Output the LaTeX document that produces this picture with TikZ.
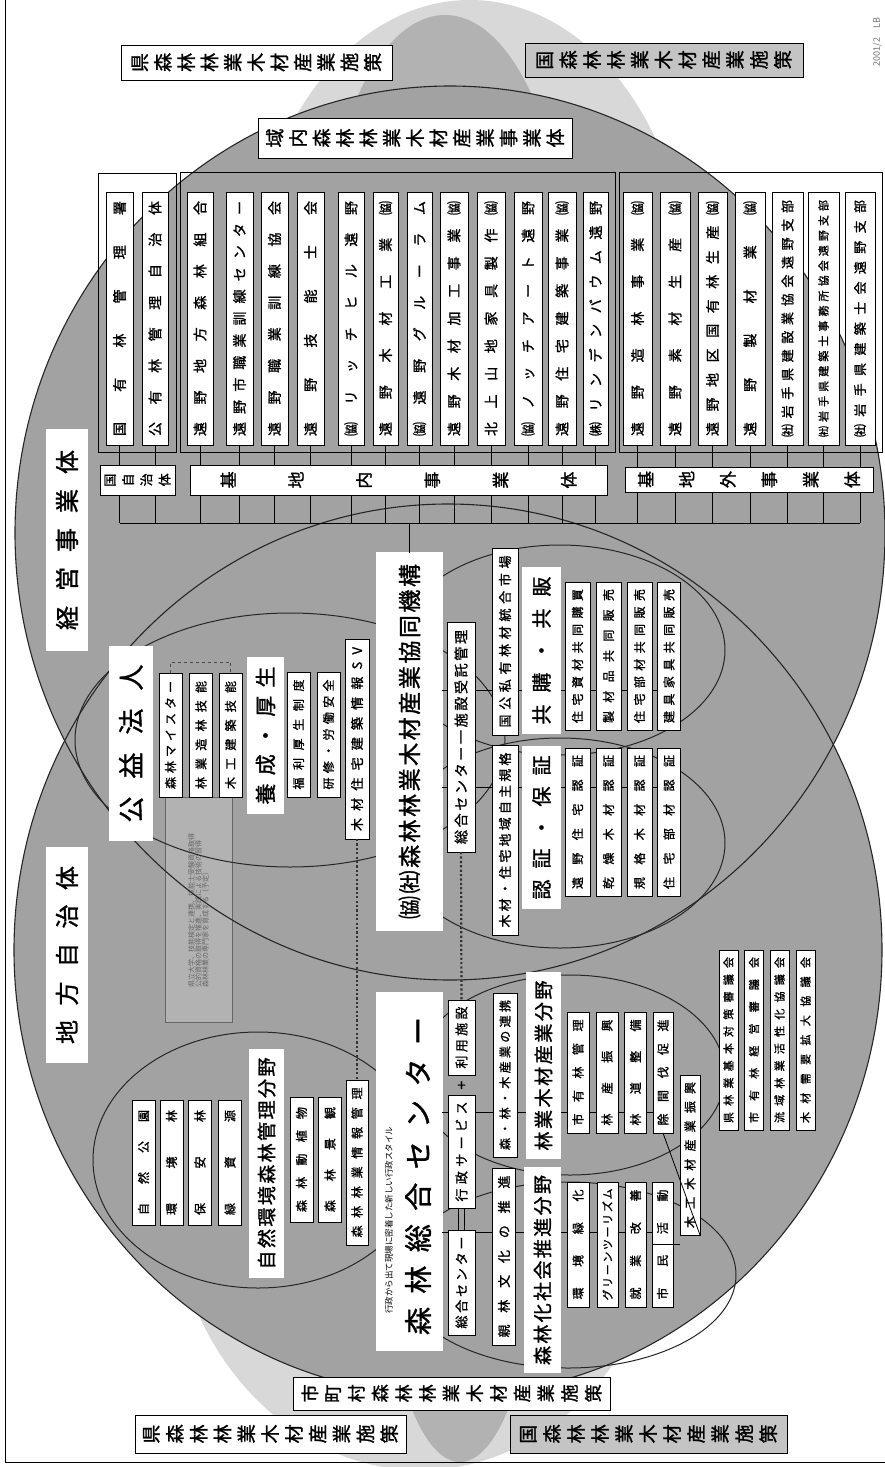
\documentclass[tikz,border=0pt]{standalone}
\usepackage{fontspec}
\usepackage{graphicx}
\newfontfamily\jp{Noto Sans CJK JP}[FakeBold=1.3]
\newfontfamily\jpl{Noto Sans CJK JP}
\def\spr#1{\sprA#1\sprEnd}
\def\sprA#1#2\sprEnd{#1\if\relax\detokenize{#2}\relax\else\hfill\sprA#2\sprEnd\fi}
\def\rspr#1{\rsprA#1\sprEnd}
\def\rsprA#1#2\sprEnd{\rotatebox[origin=c]{90}{#1}\if\relax\detokenize{#2}\relax\else\hfill\rsprA#2\sprEnd\fi}
\newcommand\fs[1]{\fontsize{#1}{#1}\selectfont}
\definecolor{cg}{HTML}{A2A2A2}
\definecolor{lg}{HTML}{D8D8D8}
\definecolor{mg}{HTML}{B2B2B2}
\definecolor{pg}{HTML}{C4C4C4}
\tikzset{
  bx/.style={draw=black,line width=0.8pt,fill=white,inner sep=0pt,outer sep=0pt},
  vb/.style={bx,rotate=90,font=\jp\fs{14}},
  hb/.style={bx,font=\jp\fs{19}},
  dbl/.style={double=white,double distance=1.3pt,line width=0.8pt},
  ring/.style={draw=black!85,line width=1.1pt},
  sub/.style={draw=black!85,line width=1pt},
  link/.style={draw=black,line width=0.8pt},
  dots/.style={draw=black!80,line width=2.2pt,dash pattern=on 2.2pt off 2.2pt},
}
% [opts]{name}{x}{y}{length}{thickness}{text width}{text}
\newcommand\LB[8][]{\node[vb,minimum width=#5pt,minimum height=#6pt,#1] (#2) at (#3,#4) {\makebox[#7pt]{\spr{#8}}};}
\newcommand\HB[8][]{\node[hb,minimum width=#5pt,minimum height=#6pt,#1] (#2) at (#3,#4) {\makebox[#7pt]{\rspr{#8}}};}
\begin{document}
\begin{tikzpicture}[x=1pt,y=-1pt]
\useasboundingbox (0,0) rectangle (885,1467);
\fill[white] (0,0) rectangle (885,1467);
% background policy shapes
\fill[lg] (470,300) ellipse [x radius=220, y radius=300];
\fill[mg] (445,300) ellipse [x radius=125, y radius=285];
\fill[lg] (420,1180) ellipse [x radius=250, y radius=290];
\fill[mg] (460,1200) ellipse [x radius=80, y radius=262];
% frame
\draw[line width=1pt] (5,0) -- (5,1462) -- (885,1462);
\node[rotate=90,font=\jpl\fs{9},text=black!55] (date) at (877,42) {2001/2\quad LB};
% big circles
\fill[cg] (450,533) ellipse [x radius=435, y radius=447];
\fill[cg] (448,950) ellipse [x radius=434, y radius=446];
% note box under the outlines
\draw[line width=0.6pt,black!60,fill=mg] (165,797) rectangle (232,1022);
\node[rotate=90,font=\jpl\fs{7},text=black!60,align=left] (note) at (198.5,910)
  {県立大学、技能検定と連携、技能士受験資格取得\\公的資格の取得を推進、実践による技術の習得\\森林林業の専門家を育成する（予定）};
\draw[ring] (450,533) ellipse [x radius=435, y radius=447];
\draw[ring] (448,950) ellipse [x radius=434, y radius=446];
% sub ellipses
\draw[sub] (290,740) ellipse [x radius=215, y radius=127];
\draw[sub] (560,650) ellipse [x radius=165, y radius=105];
\draw[sub] (560,843) ellipse [x radius=165, y radius=105];
\draw[sub] (258,1160) ellipse [x radius=165, y radius=128];
\draw[sub] (570,1075) ellipse [x radius=155, y radius=100];
\draw[sub] (568,1275) ellipse [x radius=168, y radius=93];
% group panels
\draw[line width=0.8pt] (98,173) rectangle (176,452);
\draw[line width=0.8pt] (180,172) rectangle (615,452);
\draw[line width=0.8pt] (619,172) rectangle (882,452);
% top/bottom policy labels
\HB{kenT}{256.5}{62.5}{271}{35}{250}{県森林林業木材産業施策}
\HB[fill=pg]{kuniT}{664}{60}{278}{34}{255}{国森林林業木材産業施策}
\HB{ikinai}{415}{138}{314}{40}{298}{域内森林林業木材産業事業体}
\HB[font=\jp\fs{18}]{shicho}{451.5}{1393.5}{317}{33}{300}{市町村森林林業木材産業施策}
\HB{kenB}{270.5}{1434}{271}{38}{255}{県森林林業木材産業施策}
\HB[fill=pg]{kuniB}{648.5}{1434}{277}{38}{257}{国森林林業木材産業施策}
% list boxes
\LB{b1}{119.5}{318.5}{253}{27}{235}{国有林管理署}
\LB{b2}{155}{318.5}{253}{26}{235}{公有林管理自治体}
\LB{b3}{200}{318.5}{253}{26}{235}{遠野地方森林組合}
\LB{b4}{239.5}{318.5}{253}{27}{235}{遠野市職業訓練センター}
\LB{b5}{274.5}{318.5}{253}{27}{235}{遠野職業訓練協会}
\LB{b6}{310.5}{318.5}{253}{27}{235}{遠野技能士会}
\LB{b7}{351}{318.5}{253}{26}{235}{㈿リッチヒル遠野}
\LB{b8}{385.5}{318.5}{253}{25}{235}{遠野木材工業㈿}
\LB{b9}{419.5}{318.5}{253}{25}{235}{㈿遠野グルーラム}
\LB{b10}{454}{318.5}{253}{28}{235}{遠野木材加工事業㈿}
\LB{b11}{491}{318.5}{253}{28}{235}{北上山地家具製作㈿}
\LB{b12}{528}{318.5}{253}{28}{235}{㈿ノッチアート遠野}
\LB{b13}{562}{318.5}{253}{28}{235}{遠野住宅建築事業㈿}
\LB{b14}{595.5}{318.5}{253}{25}{235}{㈱リンデンバウム遠野}
\LB{b15}{637.5}{318.5}{253}{29}{235}{遠野造林事業㈿}
\LB{b16}{675}{318.5}{253}{30}{235}{遠野素材生産㈿}
\LB{b17}{712.5}{318.5}{253}{29}{235}{遠野地区国有林生産㈿}
\LB{b18}{750}{318.5}{253}{30}{235}{遠野製材業㈿}
\LB[font=\jp\fs{13}]{b19}{787.5}{318.5}{253}{31}{237}{㈳岩手県建設業協会遠野支部}
\LB[font=\jp\fs{11}]{b20}{823.5}{318.5}{253}{31}{237}{㈳岩手県建築士事務所協会遠野支部}
\LB[font=\jp\fs{13}]{b21}{860}{318.5}{253}{30}{237}{㈳岩手県建築士会遠野支部}
% bus
\coordinate (busL) at (118,523);
\foreach \n in {b1,b2,b3,b4,b5,b6,b7,b8,b9,b10,b11,b12,b13,b14,b15,b16,b17,b18,b19,b20,b21}
  \draw[link] (\n.west) -- (\n.west |- busL);
\draw[link] (b1.west |- busL) -- (b21.west |- busL);
% group labels
\HB[font=\jp\fs{13}]{lkoku}{137.5}{480}{75}{30}{66}{国自治体}
\HB[font=\jp\fs{17}]{lnai}{398.5}{480}{417}{30}{356}{基地内事業体}
\HB[font=\jp\fs{17}]{lgai}{749}{479.5}{248}{25}{222}{基地外事業体}
% main category boxes
\LB[dbl,font=\jp\fs{24}]{keiei}{67}{540}{220}{40}{180}{経営事業体}
\LB[dbl,font=\jp\fs{24}]{chiho}{67}{955}{214}{40}{178}{地方自治体}
\LB[dbl,font=\jp\fs{26}]{koeki}{131}{743.5}{193}{42}{158}{公益法人}
\LB[dbl,font=\jp\fs{23}]{kikou}{409.5}{741.5}{377}{65}{355}{㈿㈳森林林業木材産業協同機構}
\draw[link] (kikou.east) -- (kikou.east |- busL);
% connectors inside overlap
\coordinate (r1) at (669,690);
\coordinate (r2) at (669,787);
\draw[link] (kikou.south |- r1) -- (r1);
\draw[link] (kikou.south |- r2) -- (r2);
% koeki group
\LB[font=\jp\fs{12}]{meister}{170.5}{735}{124}{23}{108}{森林マイスター}
\LB[font=\jp\fs{12}]{zorin}{201}{735}{124}{23}{108}{林業造林技能}
\LB[font=\jp\fs{12}]{mokko}{230.5}{735}{124}{23}{108}{木工建築技能}
\draw[line width=0.7pt,dashed,black!70] (meister.east) -- ++(0,-11) -| (mokko.east);
\LB[dbl,font=\jp\fs{21}]{yosei}{265.5}{735.5}{155}{35}{138}{養成・厚生}
\LB[font=\jp\fs{12}]{fukuri}{298.5}{734.5}{125}{23}{110}{福利厚生制度}
\LB[font=\jp\fs{12}]{kenshu}{328.5}{734.5}{125}{23}{110}{研修・労働安全}
\LB[font=\jp\fs{13}]{sv}{357}{739}{200}{24}{184}{木材住宅建築情報SV}
\LB[font=\jp\fs{14}]{sogoK}{461}{737}{230}{28}{214}{総合センター一施設受託管理}
% kikou groups
\LB[font=\jp\fs{13}]{shijo}{505}{641.5}{187}{26}{172}{国公私有林材統合市場}
\LB[font=\jp\fs{13}]{kikaku}{505}{840}{190}{26}{175}{木材・住宅地域自主規格}
\LB[dbl,font=\jp\fs{20}]{kyoko}{541.5}{650.5}{165}{37}{148}{共購・共販}
\LB[dbl,font=\jp\fs{20}]{ninsho}{541.5}{827.5}{161}{37}{144}{認証・保証}
\LB[font=\jp\fs{12}]{k1}{577.5}{656}{148}{25}{134}{住宅資材共同購買}
\LB[font=\jp\fs{12}]{k2}{608.5}{656}{148}{25}{134}{製材品共同販売}
\LB[font=\jp\fs{12}]{k3}{639.5}{656}{148}{25}{134}{住宅部材共同販売}
\LB[font=\jp\fs{12}]{k4}{669}{656}{148}{23}{134}{建具家具共同販売}
\LB[font=\jp\fs{12}]{n1}{577.5}{822}{148}{25}{134}{遠野住宅認証}
\LB[font=\jp\fs{12}]{n2}{608.5}{822}{148}{25}{134}{乾燥木材認証}
\LB[font=\jp\fs{12}]{n3}{639.5}{822}{148}{25}{134}{規格木材認証}
\LB[font=\jp\fs{12}]{n4}{669}{822}{148}{23}{134}{住宅部材認証}
% lower circle
\node[vb,dbl,minimum width=357pt,minimum height=65pt] (center) at (409.5,1171.5) {};
\node[rotate=90,font=\jp\fs{28}] (centerT) at (418,1176) {\makebox[318pt]{\spr{森林総合センター}}};
\node[rotate=90,font=\jpl\fs{8.5}] (centerS) at (389,1220) {行政から出て現場に密着した新しい行政スタイル};
\draw[dots] (sv.west) -- (357,1080);
\draw[dots] (sogoK.west) -- (461.5,1000);
\LB[font=\jp\fs{12}]{p1}{143.5}{1162.5}{125}{23}{105}{自然公園}
\LB[font=\jp\fs{12}]{p2}{171.5}{1162.5}{125}{23}{105}{環境林}
\LB[font=\jp\fs{12}]{p3}{200}{1162.5}{125}{23}{105}{保安林}
\LB[font=\jp\fs{12}]{p4}{230}{1162.5}{125}{23}{105}{緑資源}
\LB[dbl,font=\jp\fs{19}]{shizen}{266.5}{1163.5}{227}{33}{212}{自然環境森林管理分野}
\LB[font=\jp\fs{12}]{p5}{301.5}{1159.5}{125}{23}{105}{森林動植物}
\LB[font=\jp\fs{12}]{p6}{330}{1159.5}{125}{23}{105}{森林景観}
\LB[font=\jp\fs{12}]{joho}{357}{1162.5}{165}{22}{150}{森林林業情報管理}
% centre service boxes
\coordinate (q1) at (663,1112);
\coordinate (q2) at (662,1232);
\draw[link] (center.south |- q1) -- (q1);
\draw[link] (center.south |- q2) -- (q2);
\LB[font=\jp\fs{13}]{riyo}{461.5}{1037.5}{75}{27}{62}{利用施設}
\LB[font=\jp\fs{13}]{gyosei}{461.5}{1151.5}{113}{27}{100}{行政サービス}
\LB[font=\jp\fs{13}]{sogo}{461.5}{1282.5}{105}{27}{92}{総合センター}
\node[font=\jp\fs{15}] (plus) at (461.5,1086) {+};
\draw[link] (458.5,1208) -- (458.5,1230);
\draw[link] (464.5,1208) -- (464.5,1230);
\LB[font=\jp\fs{12}]{renkei}{505}{1075}{164}{24}{150}{森・林・木産業の連携}
\LB[font=\jp\fs{13}]{shinrin}{504}{1256.5}{177}{23}{162}{親林文化の推進}
\LB[dbl,font=\jp\fs{19}]{ringyo}{543.5}{1065.5}{185}{33}{170}{林業木材産業分野}
\LB[dbl,font=\jp\fs{19}]{shakai}{542.5}{1270}{204}{35}{190}{森林化社会推進分野}
\LB[font=\jp\fs{12}]{r1b}{578}{1072.5}{121}{22}{106}{市有林管理}
\LB[font=\jp\fs{12}]{r2b}{607}{1072.5}{121}{22}{106}{林産振興}
\LB[font=\jp\fs{12}]{r3b}{635.5}{1072.5}{121}{22}{106}{林道整備}
\LB[font=\jp\fs{12}]{r4b}{663}{1072.5}{121}{20}{106}{除間伐促進}
\LB[font=\jp\fs{12}]{mokuko}{690}{1155}{160}{20}{146}{木工木材産業振興}
\LB[font=\jp\fs{12}]{s1}{578}{1244.5}{125}{22}{110}{環境緑化}
\LB[font=\jp\fs{11}]{s2}{607.5}{1244.5}{125}{21}{112}{グリーンツーリズム}
\LB[font=\jp\fs{12}]{s3}{635.5}{1244.5}{125}{21}{110}{就業改善}
\LB[font=\jp\fs{12}]{s4}{662.5}{1244.5}{125}{21}{110}{市民活動}
\draw[link] (r4b.west) -- (mokuko.south west);
\draw[link] (s4.north) -- (s4.north -| mokuko.north);
\LB[font=\jp\fs{11}]{g1}{728.5}{1040}{180}{19}{166}{県林業基本対策審議会}
\LB[font=\jp\fs{11}]{g2}{754}{1040}{180}{19}{166}{市有林経営審議会}
\LB[font=\jp\fs{11}]{g3}{779.5}{1040}{180}{19}{166}{流域林業活性化協議会}
\LB[font=\jp\fs{11}]{g4}{805.5}{1040}{180}{19}{166}{木材需要拡大協議会}
\end{tikzpicture}
\end{document}
